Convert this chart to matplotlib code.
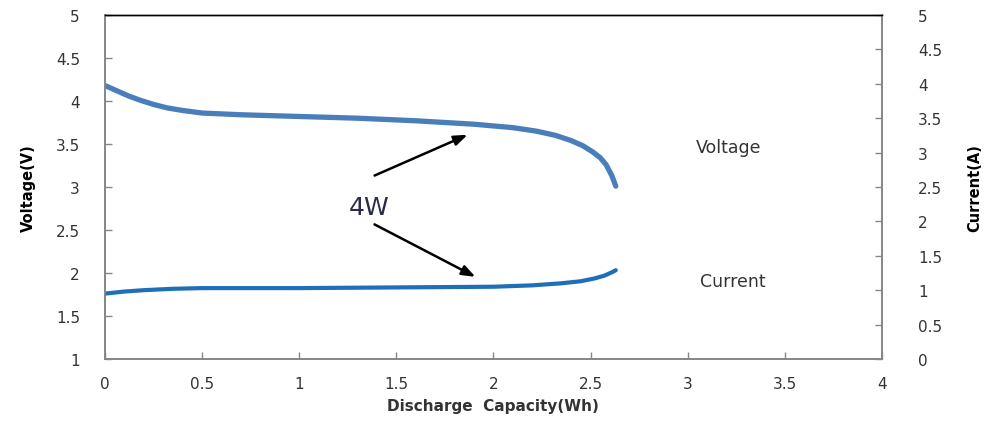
import matplotlib.pyplot as plt

# 放電容量 (Wh)
capacity_v = [0, 0.03, 0.07, 0.12, 0.18, 0.25, 0.32, 0.4, 0.5, 0.7, 1.0, 1.3, 1.6, 1.9,
              2.1, 2.22, 2.32, 2.4, 2.46, 2.51, 2.55, 2.58, 2.61, 2.63]
# 電壓 (V)
voltage = [4.18, 4.15, 4.11, 4.06, 4.01, 3.96, 3.92, 3.89, 3.86, 3.84, 3.82, 3.80, 3.77, 3.73,
           3.69, 3.65, 3.60, 3.54, 3.48, 3.41, 3.34, 3.26, 3.13, 3.01]

capacity_i = [0, 0.1, 0.2, 0.35, 0.5, 1.0, 1.5, 2.0, 2.2, 2.35, 2.45, 2.52, 2.57, 2.61, 2.63]
# 電流 (A)
current = [0.95, 0.98, 1.0, 1.02, 1.03, 1.03, 1.04, 1.05, 1.07, 1.10, 1.13, 1.17, 1.21, 1.26, 1.29]

x_ticks = [0, 0.5, 1, 1.5, 2, 2.5, 3, 3.5, 4]
v_ticks = [1, 1.5, 2, 2.5, 3, 3.5, 4, 4.5, 5]
i_ticks = [0, 0.5, 1, 1.5, 2, 2.5, 3, 3.5, 4, 4.5, 5]

AXIS_GRAY = "#868686"
TEXT = "#333333"

fig = plt.figure(figsize=(9.92, 4.27), dpi=100)
ax = fig.add_axes([0.1058, 0.157, 0.7832, 0.8055])
ax2 = ax.twinx()

ax.plot(capacity_v, voltage, color="#4a7ebb", lw=3.8, solid_capstyle="round")
ax2.plot(capacity_i, current, color="#1f6fb8", lw=3.0, solid_capstyle="round")

ax.set_xlim(0, 4)
ax.set_ylim(1, 5)
ax2.set_ylim(0, 5)
ax.set_xticks(x_ticks)
ax.set_xticklabels([f"{t:g}" for t in x_ticks])
ax.set_yticks(v_ticks)
ax.set_yticklabels([f"{t:g}" for t in v_ticks])
ax2.set_yticks(i_ticks)
ax2.set_yticklabels([f"{t:g}" for t in i_ticks])

for a in (ax, ax2):
    for side in ("left", "right", "bottom"):
        a.spines[side].set_color(AXIS_GRAY)
        a.spines[side].set_linewidth(1.2)
    a.spines["top"].set_color("black")
    a.spines["top"].set_linewidth(1.0)
    a.tick_params(direction="in", length=5, width=1, color=AXIS_GRAY,
                  labelsize=11, labelcolor=TEXT)
ax.tick_params(axis="y", pad=18)
ax.tick_params(axis="x", pad=12)
ax2.tick_params(axis="y", pad=26)

ax.set_xlabel("Discharge  Capacity(Wh)", fontsize=11, fontweight="bold",
              color=TEXT, labelpad=5)
ax.set_ylabel("Voltage(V)", fontsize=10.5, fontweight="bold", color="black",
              labelpad=14)
ax2.set_ylabel("Current(A)", fontsize=10.5, fontweight="bold", color="black",
               labelpad=18)

ax.text(3.21, 3.47, "Voltage", fontsize=12.5, color=TEXT, ha="center", va="center")
ax.text(3.23, 1.91, "Current", fontsize=12.5, color=TEXT, ha="center", va="center")
ax.text(1.36, 2.77, "4W", fontsize=18, color="#2b2b4a", ha="center", va="center")

arrow = dict(arrowstyle="-|>,head_length=0.8,head_width=0.3", color="black", lw=1.8)
ax.annotate("", xy=(1.88, 3.62), xytext=(1.375, 3.12), arrowprops=arrow)
ax.annotate("", xy=(1.92, 1.94), xytext=(1.375, 2.58), arrowprops=arrow)

fig.savefig("out.png", dpi=100)
